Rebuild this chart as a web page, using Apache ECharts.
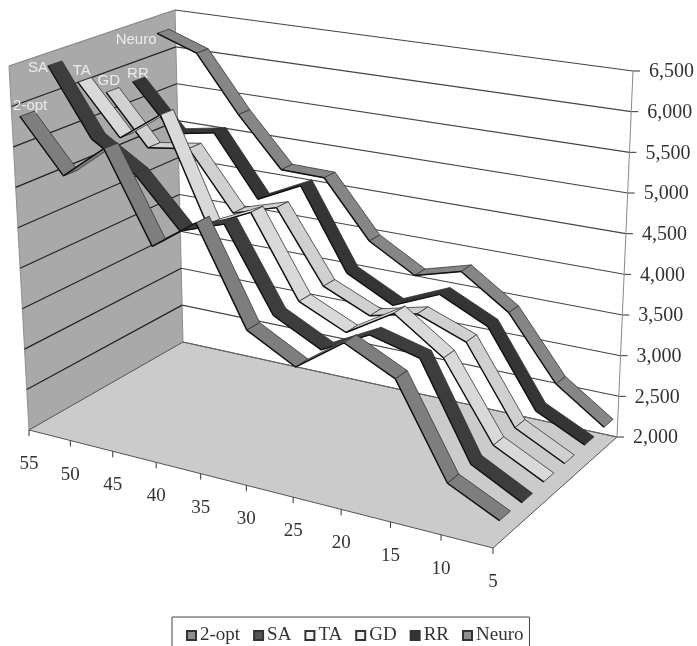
<!DOCTYPE html>
<html>
<head>
<meta charset="utf-8">
<style>
html, body { margin: 0; background: #fff; overflow: hidden; }
#chart { width: 697px; height: 646px; filter: blur(0.5px); }
</style>
</head>
<body>
<div id="chart"></div>
<script src="https://cdn.jsdelivr.net/npm/echarts@6/dist/echarts.min.js"></script>
<script>
const categories = ['55', '50', '45', '40', '35', '30', '25', '20', '15', '10', '5']
const valueTicks = [2000, 2500, 3000, 3500, 4000, 4500, 5000, 5500, 6000, 6500]

const twoOpt = [5840, 5200, 5630, 4550, 4940, 3780, 3470, 3880, 3590, 2530, 2250]
const sa = [6340, 5510, 5170, 4570, 4760, 3770, 3480, 3780, 3630, 2530, 2230]
const ta = [6000, 5380, 5760, 4480, 4740, 3760, 3500, 3850, 3440, 2540, 2250]
const gd = [5740, 5110, 5190, 4470, 4640, 3770, 3520, 3660, 3440, 2540, 2250]
const rr = [5750, 5150, 5250, 4490, 4760, 3760, 3470, 3720, 3440, 2540, 2260]
const neuro = [6270, 6080, 5350, 4720, 4710, 4000, 3670, 3830, 3430, 2670, 2270]

const seriesNames = ['2-opt', 'SA', 'TA', 'GD', 'RR', 'Neuro']
const seriesValues = [twoOpt, sa, ta, gd, rr, neuro]
const seriesColors = ['#7e7e7e', '#3d3d3d', '#d9d9d9', '#d0d0d0', '#353535', '#868686']
const legendColors = ['#8f8f8f', '#555555', '#f2f2f2', '#eeeeee', '#333333', '#8f8f8f']
// where the name sits relative to the start of its ribbon
const nameOffsets = [[3, -8], [-17, 5], [-3, -9], [-4, -9], [-1, -6], [-27, 9]]

// corners of the 3d box as Excel drew it: floor and top plane
const floorAt = squareToQuad([29, 430], [493, 548], [617, 437], [183, 342])
const topAt = squareToQuad([9, 66], [502, 150], [633, 71], [175, 10])
const valueMin = valueTicks[0]
const valueMax = valueTicks[valueTicks.length - 1]
const ribbonHalfDepth = 0.04

function squareToQuad (p0, p1, p2, p3) {
  const dx1 = p1[0] - p2[0], dx2 = p3[0] - p2[0], sx = p0[0] - p1[0] + p2[0] - p3[0]
  const dy1 = p1[1] - p2[1], dy2 = p3[1] - p2[1], sy = p0[1] - p1[1] + p2[1] - p3[1]
  const den = dx1 * dy2 - dx2 * dy1
  const g = (sx * dy2 - dx2 * sy) / den
  const h = (dx1 * sy - sx * dy1) / den
  const a = p1[0] - p0[0] + g * p1[0], b = p3[0] - p0[0] + h * p3[0]
  const d = p1[1] - p0[1] + g * p1[1], e = p3[1] - p0[1] + h * p3[1]
  return (u, v) => {
    const q = g * u + h * v + 1
    return [(a * u + b * v + p0[0]) / q, (d * u + e * v + p0[1]) / q]
  }
}

// category index, depth 0..1 (front to back), value -> grid point
const project = (index, depth, value) => {
  const u = index / (categories.length - 1)
  const h = (value - valueMin) / (valueMax - valueMin)
  const f = floorAt(u, depth)
  const t = topAt(u, depth)
  return [f[0] + (t[0] - f[0]) * h, f[1] + (t[1] - f[1]) * h]
}

const polygon = (points, fill, stroke, lineWidth) => ({
  type: 'polygon',
  shape: { points },
  style: { fill, stroke, lineWidth }
})
const line = (a, b, stroke, lineWidth) => ({
  type: 'line',
  shape: { x1: a[0], y1: a[1], x2: b[0], y2: b[1] },
  style: { stroke, lineWidth }
})
const label = (x, y, text, align, size) => ({
  type: 'text',
  style: {
    x, y, text,
    align,
    verticalAlign: 'middle',
    fill: '#333',
    font: size + 'px "Liberation Serif"'
  }
})

const renderFrame = (params, api) => {
  const lastCat = categories.length - 1
  const at = (i, d, v) => api.coord(project(i, d, v))
  const children = [
    polygon([at(0, 0, valueMin), at(0, 1, valueMin), at(0, 1, valueMax), at(0, 0, valueMax)], '#a9a9a9', '#8f8f8f', 1),
    polygon([at(0, 0, valueMin), at(lastCat, 0, valueMin), at(lastCat, 1, valueMin), at(0, 1, valueMin)], '#cbcbcb', '#555', 1)
  ]
  valueTicks.forEach(v => {
    const back = at(lastCat, 1, v)
    children.push(line(at(0, 1, v), back, v === valueMin ? '#666' : '#444', 1.1))
    if (v > valueMin) children.push(line(at(0, 0, v), at(0, 1, v), v === valueMax ? '#8f8f8f' : '#222', 1.2))
    children.push(line(back, [back[0] + 7, back[1]], '#333', 1))
    children.push(label(back[0] + 16, back[1] + 1, v.toLocaleString('en-US'), 'left', 20))
  })
  children.push(line(at(lastCat, 1, valueMin), at(lastCat, 1, valueMax), '#888', 1))
  categories.forEach((c, i) => {
    const p = at(i, 0, valueMin)
    children.push(line(p, [p[0], p[1] + 6], '#333', 1))
    children.push(label(p[0], p[1] + 34, c, 'center', 19))
  })
  return { type: 'group', children }
}

const renderRibbon = k => (params, api) => {
  const i = api.value(0)
  const values = seriesValues[k]
  const mid = (k + 0.5) / seriesNames.length
  const front = mid - ribbonHalfDepth
  const back = mid + ribbonHalfDepth
  const children = []
  if (i < values.length - 1) {
    const a = api.coord(project(i, front, values[i]))
    const b = api.coord(project(i + 1, front, values[i + 1]))
    const c = api.coord(project(i + 1, back, values[i + 1]))
    const d = api.coord(project(i, back, values[i]))
    children.push(polygon([a, b, c, d], seriesColors[k], '#333', 0.8))
    children.push(line(a, b, '#111', 1.4))
  }
  if (i === 0) {
    const start = api.coord(project(0, mid, values[0]))
    children.push({
      type: 'text',
      style: {
        x: start[0] + nameOffsets[k][0],
        y: start[1] + nameOffsets[k][1],
        text: seriesNames[k],
        align: 'center',
        verticalAlign: 'middle',
        fill: '#ececec',
        font: '15px "Liberation Sans"'
      }
    })
  }
  return { type: 'group', children }
}

const chart = echarts.init(document.getElementById('chart'))

chart.setOption({
  animation: false,
  backgroundColor: '#fff',
  grid: { left: 0, right: 0, top: 0, bottom: 0 },
  xAxis: { type: 'value', min: 0, max: 697, show: false },
  yAxis: { type: 'value', min: 0, max: 646, inverse: true, show: false },
  legend: {
    data: seriesNames,
    left: 172,
    top: 617,
    orient: 'horizontal',
    icon: 'rect',
    itemWidth: 9,
    itemHeight: 9,
    itemGap: 13,
    padding: [9, 6, 30, 14],
    borderColor: '#444',
    borderWidth: 1,
    selectedMode: false,
    textStyle: {
      color: '#333',
      fontFamily: 'Liberation Serif',
      fontSize: 19,
      padding: [0, 0, 0, -1]
    }
  },
  series: [
    {
      type: 'custom',
      name: 'frame',
      z: 1,
      silent: true,
      clip: false,
      data: [[0, 0]],
      renderItem: renderFrame
    },
    ...seriesNames.map((name, k) => ({
      type: 'custom',
      name,
      z: 10 - k,
      silent: true,
      clip: false,
      itemStyle: { color: legendColors[k], borderColor: '#333', borderWidth: 1 },
      data: seriesValues[k].map((v, i) => [i, v]),
      renderItem: renderRibbon(k)
    }))
  ]
})
</script>
</body>
</html>
